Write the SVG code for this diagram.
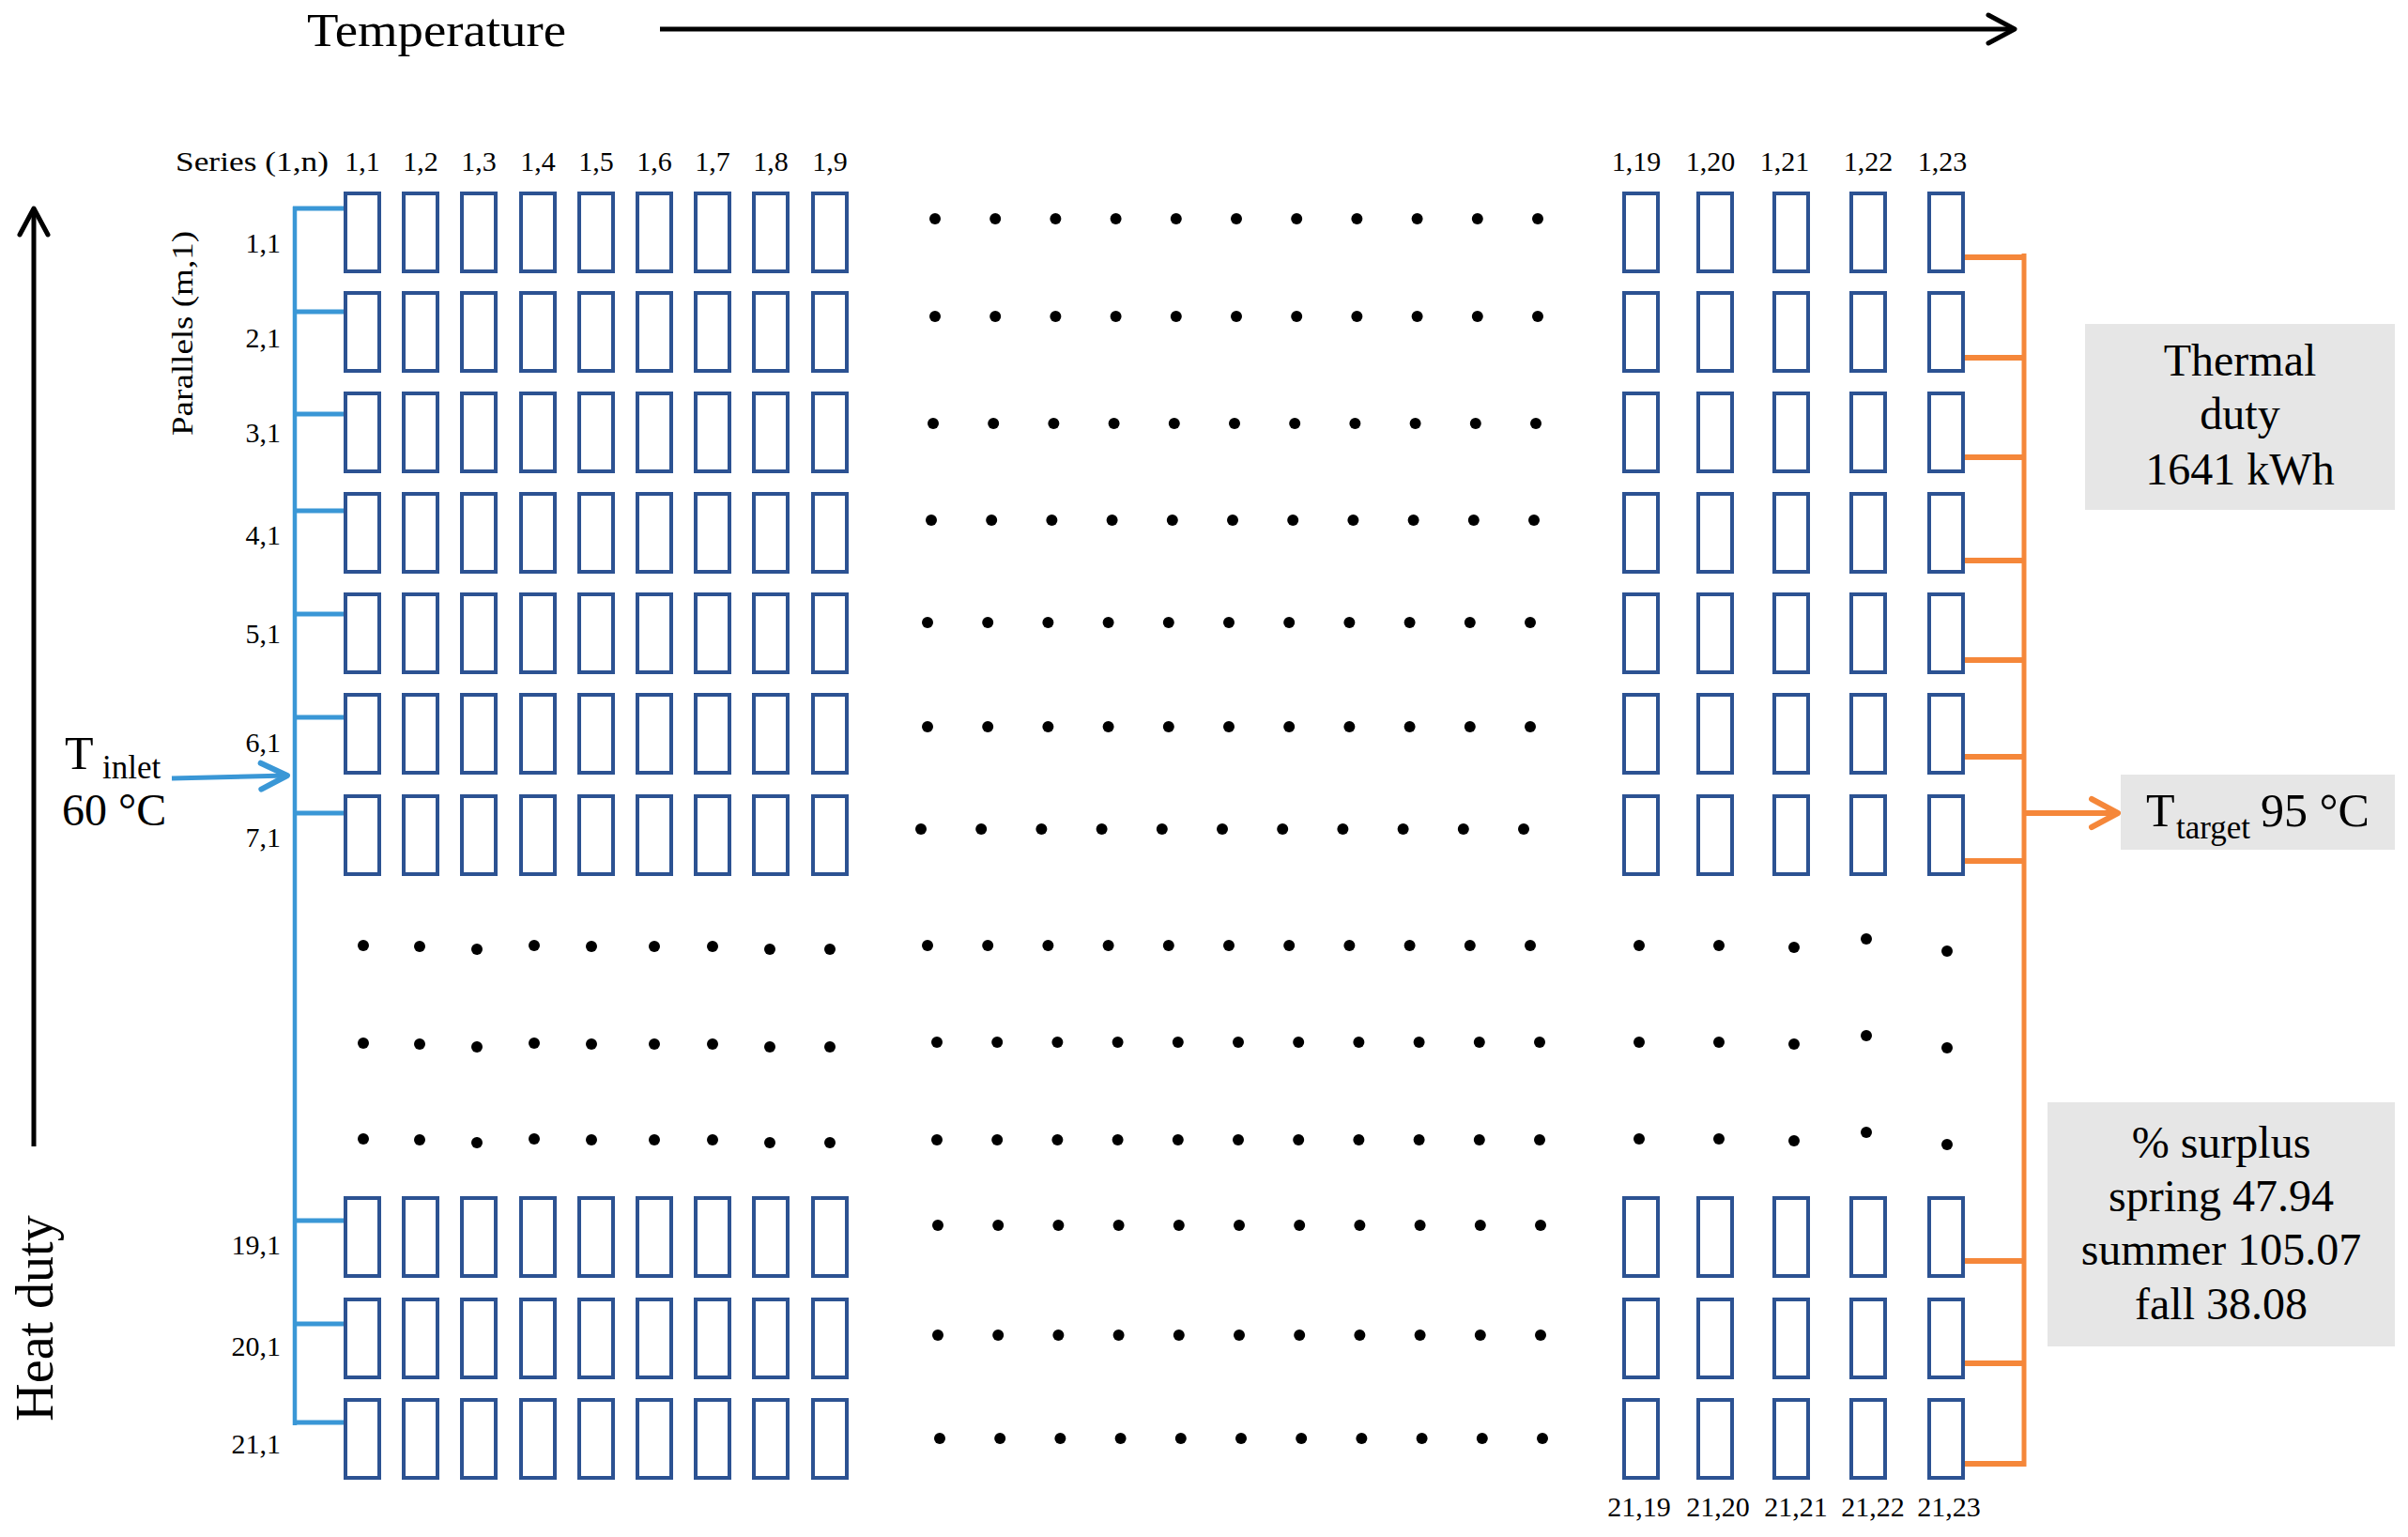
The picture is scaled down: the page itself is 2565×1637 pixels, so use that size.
<svg xmlns="http://www.w3.org/2000/svg" xmlns:xlink="http://www.w3.org/1999/xlink" width="2565" height="1637" viewBox="0 0 2565 1637">
<style>
text{font-family:"Liberation Serif","Times New Roman",serif;fill:#000}
.lbl{font-size:30px}
.mid{text-anchor:middle}
.end{text-anchor:end}
.box{fill:none;stroke:#2c5292;stroke-width:4}
.dot{fill:#000}
.bus-b{stroke:#3a97d6;stroke-width:4.5;fill:none}
.stub-b{stroke:#3a97d6;stroke-width:5;fill:none}
.bus-o{stroke:#f5873a;stroke-width:5;fill:none}
.stub-o{stroke:#f5873a;stroke-width:6;fill:none}
.axis{stroke:#000;stroke-width:5;fill:none}
.panel{fill:#e6e6e6}
.big{font-size:48px}
</style>
<defs>
<marker id="ahK" viewBox="-34 -20 38 40" markerWidth="38" markerHeight="40" refX="0" refY="0" markerUnits="userSpaceOnUse" orient="auto"><path d="M-28,-15 L0,0 L-28,15" fill="none" stroke="#000" stroke-width="5" stroke-linejoin="round" stroke-linecap="round"/></marker>
<marker id="ahB" viewBox="-34 -20 38 40" markerWidth="38" markerHeight="40" refX="0" refY="0" markerUnits="userSpaceOnUse" orient="auto"><path d="M-28,-14 L0,0 L-28,14" fill="none" stroke="#3a97d6" stroke-width="6" stroke-linejoin="round" stroke-linecap="round"/></marker>
<marker id="ahO" viewBox="-34 -20 38 40" markerWidth="38" markerHeight="40" refX="0" refY="0" markerUnits="userSpaceOnUse" orient="auto"><path d="M-28,-15 L0,0 L-28,15" fill="none" stroke="#f5873a" stroke-width="6" stroke-linejoin="round" stroke-linecap="round"/></marker>
<g id="dots11">
<circle class="dot" cx="0" cy="0" r="6"/><circle class="dot" cx="64.2" cy="0" r="6"/><circle class="dot" cx="128.4" cy="0" r="6"/><circle class="dot" cx="192.6" cy="0" r="6"/><circle class="dot" cx="256.8" cy="0" r="6"/><circle class="dot" cx="321" cy="0" r="6"/><circle class="dot" cx="385.2" cy="0" r="6"/><circle class="dot" cx="449.4" cy="0" r="6"/><circle class="dot" cx="513.6" cy="0" r="6"/><circle class="dot" cx="577.8" cy="0" r="6"/><circle class="dot" cx="642" cy="0" r="6"/>
</g>
<g id="dotsL">
<circle class="dot" cx="387" cy="0" r="6"/><circle class="dot" cx="447" cy="1" r="6"/><circle class="dot" cx="508" cy="4" r="6"/><circle class="dot" cx="569" cy="0" r="6"/><circle class="dot" cx="630" cy="1" r="6"/><circle class="dot" cx="697" cy="1" r="6"/><circle class="dot" cx="759" cy="1" r="6"/><circle class="dot" cx="820" cy="4" r="6"/><circle class="dot" cx="884" cy="4" r="6"/>
</g>
<g id="dotsR">
<circle class="dot" cx="1746" cy="0" r="6"/><circle class="dot" cx="1831" cy="0" r="6"/><circle class="dot" cx="1911" cy="2" r="6"/><circle class="dot" cx="1988" cy="-7" r="6"/><circle class="dot" cx="2074" cy="6" r="6"/>
</g>
<g id="rowL">
<rect class="box" x="368" y="0" width="36" height="83"/><rect class="box" x="430" y="0" width="36" height="83"/><rect class="box" x="492" y="0" width="36" height="83"/><rect class="box" x="555" y="0" width="36" height="83"/><rect class="box" x="617" y="0" width="36" height="83"/><rect class="box" x="679" y="0" width="36" height="83"/><rect class="box" x="741" y="0" width="36" height="83"/><rect class="box" x="803" y="0" width="36" height="83"/><rect class="box" x="866" y="0" width="36" height="83"/>
</g>
<g id="rowR">
<rect class="box" x="1730" y="0" width="36" height="83"/><rect class="box" x="1809" y="0" width="36" height="83"/><rect class="box" x="1890" y="0" width="36" height="83"/><rect class="box" x="1972" y="0" width="36" height="83"/><rect class="box" x="2055" y="0" width="36" height="83"/>
</g>
</defs>
<rect width="2565" height="1637" fill="#fff"/>

<g id="axes">
<line class="axis" x1="703" y1="31" x2="2146" y2="31" marker-end="url(#ahK)"/>
<line class="axis" x1="36" y1="1221" x2="36" y2="222" marker-end="url(#ahK)"/>
<text x="327" y="49" font-size="50" textLength="276" lengthAdjust="spacingAndGlyphs">Temperature</text>
<text transform="translate(56,1404) rotate(-90)" class="mid" font-size="56">Heat duty</text>
</g>

<g id="header-labels">
<text class="lbl" x="187" y="182" textLength="163" lengthAdjust="spacingAndGlyphs">Series (1,n)</text>
<text class="lbl mid" x="386" y="182">1,1</text>
<text class="lbl mid" x="448" y="182">1,2</text>
<text class="lbl mid" x="510" y="182">1,3</text>
<text class="lbl mid" x="573" y="182">1,4</text>
<text class="lbl mid" x="635" y="182">1,5</text>
<text class="lbl mid" x="697" y="182">1,6</text>
<text class="lbl mid" x="759" y="182">1,7</text>
<text class="lbl mid" x="821" y="182">1,8</text>
<text class="lbl mid" x="884" y="182">1,9</text>
<text class="lbl mid" x="1743" y="182">1,19</text>
<text class="lbl mid" x="1822" y="182">1,20</text>
<text class="lbl mid" x="1901" y="182">1,21</text>
<text class="lbl mid" x="1990" y="182">1,22</text>
<text class="lbl mid" x="2069" y="182">1,23</text>
<text class="lbl mid" x="1746" y="1615">21,19</text>
<text class="lbl mid" x="1830" y="1615">21,20</text>
<text class="lbl mid" x="1913" y="1615">21,21</text>
<text class="lbl mid" x="1995" y="1615">21,22</text>
<text class="lbl mid" x="2076" y="1615">21,23</text>
<text transform="translate(205,355) rotate(-90)" class="mid" font-size="32" textLength="218" lengthAdjust="spacingAndGlyphs">Parallels (m,1)</text>
<text class="lbl end" x="299" y="269">1,1</text>
<text class="lbl end" x="299" y="370">2,1</text>
<text class="lbl end" x="299" y="471">3,1</text>
<text class="lbl end" x="299" y="580">4,1</text>
<text class="lbl end" x="299" y="685">5,1</text>
<text class="lbl end" x="299" y="801">6,1</text>
<text class="lbl end" x="299" y="902">7,1</text>
<text class="lbl end" x="299" y="1336">19,1</text>
<text class="lbl end" x="299" y="1444">20,1</text>
<text class="lbl end" x="299" y="1548">21,1</text>
</g>

<g id="connectors">
<line class="bus-b" x1="314" y1="220" x2="314" y2="1518"/>
<path class="stub-b" d="M312,222H368M312,332H368M312,441H368M312,544H368M312,654H368M312,764H368M312,866H368M312,1300H368M312,1410H368M312,1515H368"/>
<line class="stub-b" x1="183" y1="829" x2="306" y2="826" marker-end="url(#ahB)"/>
<line class="bus-o" x1="2156" y1="270" x2="2156" y2="1562"/>
<path class="stub-o" d="M2091,274H2158M2091,381H2158M2091,487H2158M2091,597H2158M2091,703H2158M2091,806H2158M2091,917H2158M2091,1343H2158M2091,1452H2158M2091,1559H2158"/>
<line class="stub-o" x1="2156" y1="866" x2="2256" y2="866" marker-end="url(#ahO)"/>
</g>

<g id="inlet">
<text x="69" y="819" font-size="50">T</text>
<text x="109" y="829" font-size="35">inlet</text>
<text x="66" y="879" font-size="48">60 °C</text>
</g>

<g id="row-1"><use href="#rowL" y="206"/><use href="#rowR" y="206"/></g>
<g id="row-2"><use href="#rowL" y="312"/><use href="#rowR" y="312"/></g>
<g id="row-3"><use href="#rowL" y="419"/><use href="#rowR" y="419"/></g>
<g id="row-4"><use href="#rowL" y="526"/><use href="#rowR" y="526"/></g>
<g id="row-5"><use href="#rowL" y="633"/><use href="#rowR" y="633"/></g>
<g id="row-6"><use href="#rowL" y="740"/><use href="#rowR" y="740"/></g>
<g id="row-7"><use href="#rowL" y="848"/><use href="#rowR" y="848"/></g>
<g id="row-19"><use href="#rowL" y="1276"/><use href="#rowR" y="1276"/></g>
<g id="row-20"><use href="#rowL" y="1384"/><use href="#rowR" y="1384"/></g>
<g id="row-21"><use href="#rowL" y="1491"/><use href="#rowR" y="1491"/></g>

<g id="ellipsis">
<use href="#dots11" x="996" y="233"/>
<use href="#dots11" x="996" y="337"/>
<use href="#dots11" x="994" y="451"/>
<use href="#dots11" x="992" y="554"/>
<use href="#dots11" x="988" y="663"/>
<use href="#dots11" x="988" y="774"/>
<use href="#dots11" x="981" y="883"/>
<use href="#dots11" x="988" y="1007"/>
<use href="#dots11" x="998" y="1110"/>
<use href="#dots11" x="998" y="1214"/>
<use href="#dots11" x="999" y="1305"/>
<use href="#dots11" x="999" y="1422"/>
<use href="#dots11" x="1001" y="1532"/>
<use href="#dotsL" y="1007"/>
<use href="#dotsL" y="1111"/>
<use href="#dotsL" y="1213"/>
<use href="#dotsR" y="1007"/>
<use href="#dotsR" y="1110"/>
<use href="#dotsR" y="1213"/>
</g>

<g id="thermal-duty">
<rect class="panel" x="2221" y="345" width="330" height="198"/>
<text class="big mid" x="2386" y="400">Thermal</text>
<text class="big mid" x="2386" y="457">duty</text>
<text class="big mid" x="2386" y="516">1641 kWh</text>
</g>

<g id="target">
<rect class="panel" x="2259" y="825" width="292" height="80"/>
<text x="2286" y="880" font-size="50">T</text>
<text x="2318" y="893" font-size="35">target</text>
<text x="2408" y="880" font-size="50">95 °C</text>
</g>

<g id="surplus">
<rect class="panel" x="2181" y="1174" width="370" height="260"/>
<text class="big mid" x="2366" y="1233">% surplus</text>
<text class="big mid" x="2366" y="1290">spring 47.94</text>
<text class="big mid" x="2366" y="1347">summer 105.07</text>
<text class="big mid" x="2366" y="1405">fall 38.08</text>
</g>
</svg>
